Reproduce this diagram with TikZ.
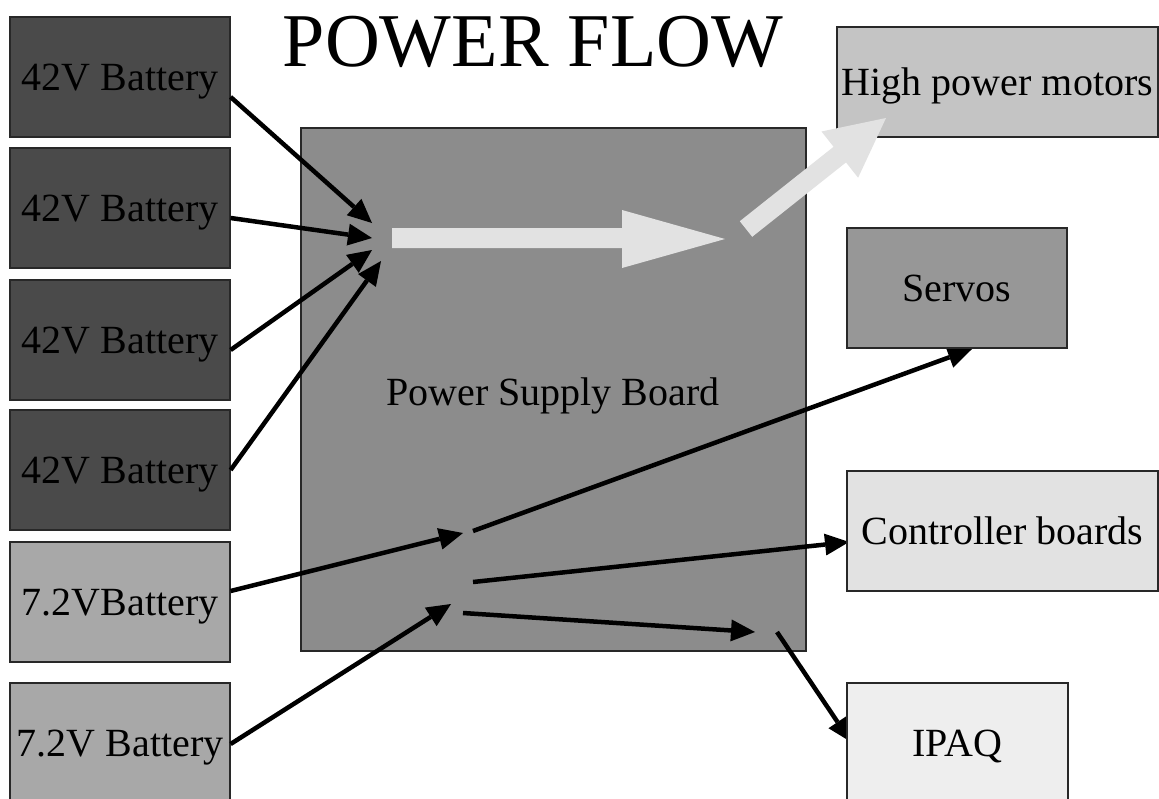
\documentclass[tikz,border=0pt]{standalone}
\usepackage{fontspec}
\setmainfont{Liberation Serif}
\usetikzlibrary{arrows.meta}
\pgfdeclarelayer{back}
\pgfdeclarelayer{front}
\pgfsetlayers{back,main,front}

\definecolor{edge}{RGB}{40,40,40}
\definecolor{bighv}{RGB}{74,74,74}
\definecolor{lowv}{RGB}{168,168,168}
\definecolor{boardgray}{RGB}{140,140,140}
\definecolor{motorgray}{RGB}{196,196,196}
\definecolor{servogray}{RGB}{151,151,151}
\definecolor{ctrlgray}{RGB}{226,226,226}
\definecolor{ipaqgray}{RGB}{238,238,238}
\definecolor{flowgray}{RGB}{226,226,226}

\begin{document}
\begin{tikzpicture}[x=1pt,y=-1pt,
  box/.style={draw=edge, line width=1.2pt, inner sep=0pt,
    font=\fontsize{40}{48}\selectfont, text height=27pt, text depth=0pt},
  battbox/.style={box, minimum width=220pt, minimum height=120pt},
  wire/.style={line width=4.5pt, -{Triangle[length=24pt,width=22pt,line width=0pt]}},
  flow/.style={fill=flowgray, draw=none}]

\useasboundingbox (0,0) rectangle (1159,798);

% background and the power supply board
\begin{pgfonlayer}{back}
  \fill[white] (0,0) rectangle (1159,798);
  \node[box, fill=boardgray, minimum width=505pt, minimum height=523pt]
    (board) at (553.5,389.5) {};
  \node[box, fill=motorgray, minimum width=321pt, minimum height=110pt]
    (motors) at (997.5,82) {High power motors};
\end{pgfonlayer}

% title
\node[anchor=base, inner sep=0pt, font=\fontsize{76}{90}\selectfont]
  (title) at (533,66) {POWER FLOW};

% board label
\node[anchor=base, inner sep=0pt, font=\fontsize{40}{48}\selectfont]
  (boardlabel) at (553,405) {Power Supply Board};

% batteries
\node[battbox, fill=bighv] (b1) at (120,77)  {42V Battery};
\node[battbox, fill=bighv] (b2) at (120,208) {42V Battery};
\node[battbox, fill=bighv] (b3) at (120,340) {42V Battery};
\node[battbox, fill=bighv] (b4) at (120,470) {42V Battery};
\node[battbox, fill=lowv]  (b5) at (120,602) {7.2VBattery};
\node[battbox, fill=lowv]  (b6) at (120,743) {7.2V Battery};

% loads that sit above their incoming wires
\begin{pgfonlayer}{front}
  \node[box, fill=servogray, minimum width=220pt, minimum height=120pt]
    (servos) at (957,288) {Servos};
  \node[box, fill=ctrlgray, minimum width=311pt, minimum height=120pt]
    (ctrl) at (1002.5,531) {Controller boards};
  \node[box, fill=ipaqgray, minimum width=221pt, minimum height=120pt]
    (ipaq) at (957.5,743) {IPAQ};
\end{pgfonlayer}

% wire end points
\coordinate (s1) at (b1.east |- 0,97);
\coordinate (s2) at (b2.east |- 0,218);
\coordinate (s3) at (b3.east |- 0,350);
\coordinate (s4) at (b4.east |- 0,470);
\coordinate (s5) at (b5.east |- 0,591);
\coordinate (s6) at (b6.east |- 0,744);
\coordinate (in1) at (372,223);
\coordinate (in2) at (372,238);
\coordinate (in3) at (372,250);
\coordinate (in4) at (381,261);
\coordinate (in5) at (463,533);
\coordinate (in6) at (451,604);
\coordinate (o1) at (473,531);
\coordinate (o2) at (473,582);
\coordinate (o3) at (463,613);
\coordinate (m3) at (755,632);
\coordinate (o4) at (777,632);
\coordinate (t1) at (972,349);
\coordinate (t2) at (849,542);
\coordinate (t3) at (851,742);

% battery wires into the board
\draw[wire] (s1) -- (in1);
\draw[wire] (s2) -- (in2);
\draw[wire] (s3) -- (in3);
\draw[wire] (s4) -- (in4);
\draw[wire] (s5) -- (in5);
\draw[wire] (s6) -- (in6);

% low-voltage outputs
\draw[wire] (o1) -- (t1);
\draw[wire] (o2) -- (t2);
\draw[wire] (o3) -- (m3);
\draw[wire] (o4) -- (t3);

% high power flow arrows
\fill[flow] (392,228) -- (622,228) -- (622,210) -- (725,239)
  -- (622,268) -- (622,248) -- (392,248) -- cycle;
\fill[flow] (739.8,221.2) -- (833.6,146.8) -- (821.5,131.5) -- (886,118)
  -- (858.1,177.7) -- (846.0,162.4) -- (752.2,236.8) -- cycle;

\end{tikzpicture}
\end{document}
